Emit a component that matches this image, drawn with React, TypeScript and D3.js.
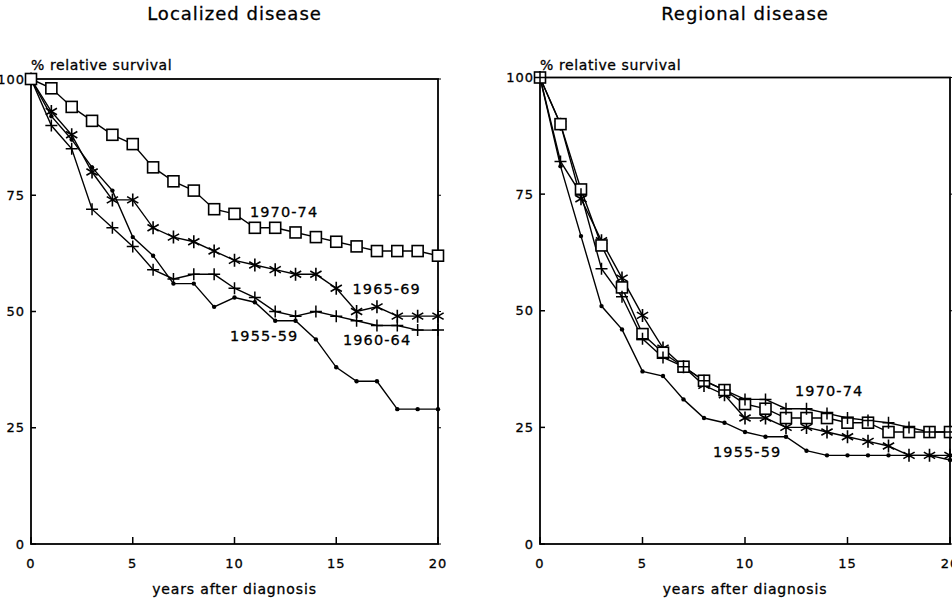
import React from "react";
import * as d3 from "d3";

const years = [0, 1, 2, 3, 4, 5, 6, 7, 8, 9, 10, 11, 12, 13, 14, 15, 16, 17, 18, 19, 20];
const xTicks = [0, 5, 10, 15, 20];
const yTicks = [0, 25, 50, 75, 100];

// Localized disease
const loc1970 = [100, 98, 94, 91, 88, 86, 81, 78, 76, 72, 71, 68, 68, 67, 66, 65, 64, 63, 63, 63, 62];
const loc1965 = [100, 93, 88, 80, 74, 74, 68, 66, 65, 63, 61, 60, 59, 58, 58, 55, 50, 51, 49, 49, 49];
const loc1960 = [100, 90, 85, 72, 68, 64, 59, 57, 58, 58, 55, 53, 50, 49, 50, 49, 48, 47, 47, 46, 46];
const loc1955 = [100, 92, 87, 81, 76, 66, 62, 56, 56, 51, 53, 52, 48, 48, 44, 38, 35, 35, 29, 29, 29];

// Regional disease
const reg1970 = [100, 90, 76, 64, 55, 45, 41, 38, 35, 33, 30, 29, 27, 27, 27, 26, 26, 24, 24, 24, 24];
const reg1965 = [100, 90, 74, 65, 57, 49, 42, 38, 34, 32, 27, 27, 25, 25, 24, 23, 22, 21, 19, 19, 19];
const reg1960 = [100, 82, 75, 59, 53, 44, 40, 38, 35, 33, 31, 31, 29, 29, 28, 27, 26.5, 26, 25, 24, 24];
const reg1955 = [100, 81, 66, 51, 46, 37, 36, 31, 27, 26, 24, 23, 23, 20, 19, 19, 19, 19, 19, 19, 18];

const locLabels = [
  { text: "1970-74", year: 10.76, value: 70.3 },
  { text: "1965-69", year: 15.8, value: 53.8 },
  { text: "1955-59", year: 9.78, value: 43.7 },
  { text: "1960-64", year: 15.33, value: 42.8 },
];
const regLabels = [
  { text: "1970-74", year: 12.44, value: 31.7 },
  { text: "1955-59", year: 8.44, value: 18.6 },
];

const FONT = "'DejaVu Sans', sans-serif";
const TXT = { fill: "black", stroke: "black", strokeWidth: 0.3 };

type Marker = "square" | "asterisk" | "plus" | "dot";

function MarkerShape({ type, x, y }: { type: Marker; x: number; y: number }) {
  const s = 5.5;
  if (type === "square") {
    return <rect x={x - s} y={y - s} width={2 * s} height={2 * s} fill="white" stroke="black" strokeWidth={1.6} />;
  }
  if (type === "plus") {
    return (
      <path d={`M${x - 6},${y}H${x + 6}M${x},${y - 6}V${y + 6}`} stroke="black" strokeWidth={1.5} fill="none" />
    );
  }
  if (type === "asterisk") {
    const r = 6.5;
    const a = r * Math.cos(Math.PI / 6);
    const b = r * Math.sin(Math.PI / 6);
    return (
      <path
        d={`M${x},${y - r}V${y + r}M${x - a},${y - b}L${x + a},${y + b}M${x - a},${y + b}L${x + a},${y - b}`}
        stroke="black"
        strokeWidth={1.6}
        fill="none"
      />
    );
  }
  return <circle cx={x} cy={y} r={2.2} fill="black" />;
}

function Panel({
  title,
  x0,
  x1,
  yTop,
  series,
  labels,
  yLabelRight,
}: {
  title: string;
  x0: number;
  x1: number;
  yTop: number;
  series: { values: number[]; marker: Marker }[];
  labels: { text: string; year: number; value: number }[];
  yLabelRight: number;
}) {
  const x = d3.scaleLinear().domain([0, 20]).range([x0, x1]);
  const y = d3.scaleLinear().domain([0, 100]).range([544, yTop]);
  const line = d3
    .line<number>()
    .x((_, i) => x(years[i]))
    .y((d) => y(d));
  const cx = (x0 + x1) / 2;
  return (
    <g>
      <text x={cx} y={20} textAnchor="middle" fontFamily={FONT} fontSize={18} letterSpacing={1} {...TXT}>
        {title}
      </text>
      <text x={x0} y={70} fontFamily={FONT} fontSize={14} letterSpacing={0.6} {...TXT}>
        % relative survival
      </text>
      <rect x={x0} y={y(100)} width={x1 - x0} height={y(0) - y(100)} fill="none" stroke="black" strokeWidth={1.8} />
      {yTicks.map((t) => (
        <g key={"y" + t}>
          <line x1={x0} x2={x0 + 5} y1={y(t)} y2={y(t)} stroke="black" strokeWidth={1.5} />
          <line x1={x1} x2={x1 + 3} y1={y(t)} y2={y(t)} stroke="black" strokeWidth={1} />
          <text
            x={yLabelRight}
            y={y(t)}
            dy="0.36em"
            textAnchor="end"
            fontFamily={FONT}
            fontSize={13}
            letterSpacing={1}
            {...TXT}
          >
            {t}
          </text>
        </g>
      ))}
      {xTicks.map((t) => (
        <g key={"x" + t}>
          <line x1={x(t)} x2={x(t)} y1={544} y2={537} stroke="black" strokeWidth={1.5} />
          <text x={x(t)} y={568} textAnchor="middle" fontFamily={FONT} fontSize={13} letterSpacing={1} {...TXT}>
            {t}
          </text>
        </g>
      ))}
      <text x={cx} y={594} textAnchor="middle" fontFamily={FONT} fontSize={14} letterSpacing={0.85} {...TXT}>
        years after diagnosis
      </text>
      {series.map((s, si) => (
        <path key={"l" + si} d={line(s.values) || ""} fill="none" stroke="black" strokeWidth={1.4} />
      ))}
      {series.map((s, si) =>
        s.values.map((v, i) => <MarkerShape key={`m${si}-${i}`} type={s.marker} x={x(years[i])} y={y(v)} />)
      )}
      {labels.map((l) => (
        <text
          key={l.text}
          x={x(l.year)}
          y={y(l.value)}
          fontFamily={FONT}
          fontSize={14.5}
          letterSpacing={1.1}
          {...TXT}
        >
          {l.text}
        </text>
      ))}
    </g>
  );
}

export default function App() {
  return (
    <div style={{ position: "absolute", left: 0, top: 0 }}>
      <svg width={952} height={605} style={{ display: "block", background: "white" }}>
        <rect width={952} height={605} fill="white" />
        <Panel
          title="Localized disease"
          x0={31}
          x1={438}
          yTop={79}
          yLabelRight={25}
          series={[
            { values: loc1955, marker: "dot" },
            { values: loc1960, marker: "plus" },
            { values: loc1965, marker: "asterisk" },
            { values: loc1970, marker: "square" },
          ]}
          labels={locLabels}
        />
        <Panel
          title="Regional disease"
          x0={540}
          x1={950}
          yTop={77.5}
          yLabelRight={534}
          series={[
            { values: reg1955, marker: "dot" },
            { values: reg1965, marker: "asterisk" },
            { values: reg1970, marker: "square" },
            { values: reg1960, marker: "plus" },
          ]}
          labels={regLabels}
        />
      </svg>
    </div>
  );
}
